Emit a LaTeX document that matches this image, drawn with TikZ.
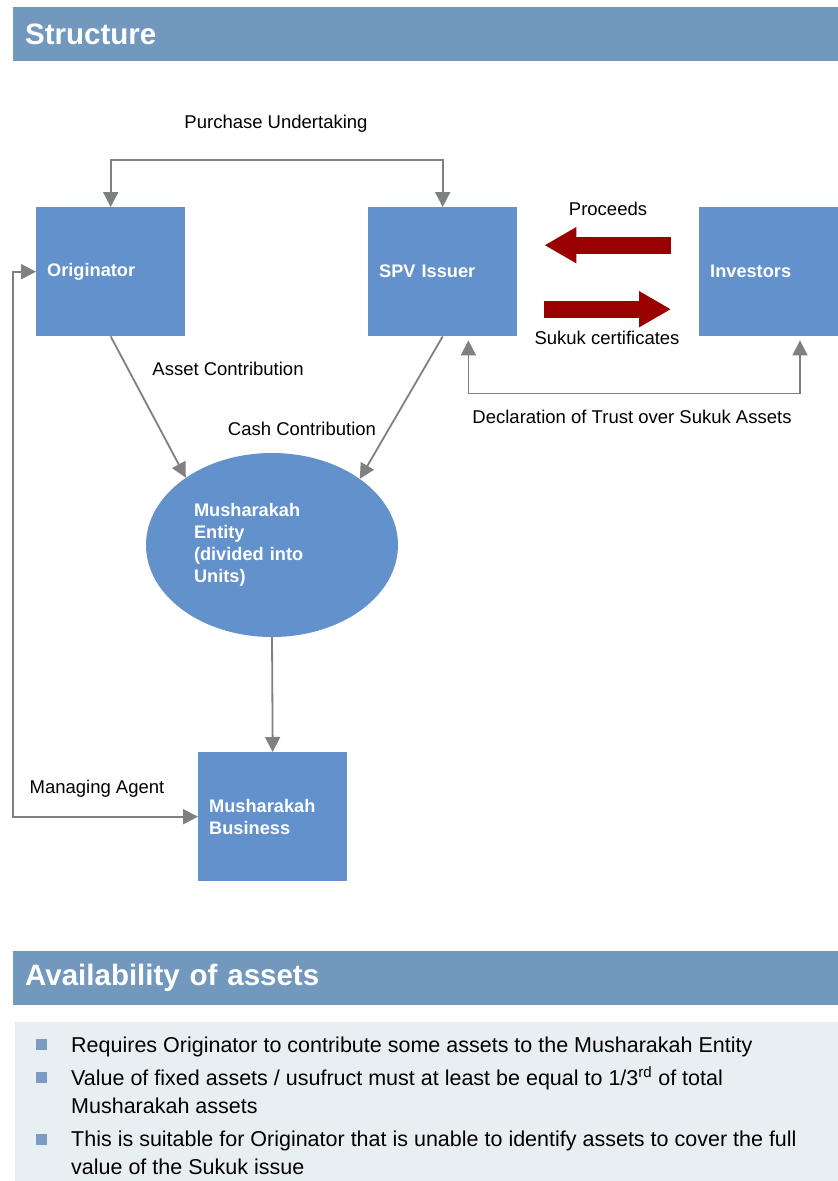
\documentclass[tikz,border=0pt]{standalone}
\usepackage{fontspec}
\setmainfont{Liberation Sans}
\usetikzlibrary{arrows.meta,shapes.geometric,calc}
\definecolor{hdr}{RGB}{114,152,190}
\definecolor{boxblue}{RGB}{99,145,203}
\definecolor{arrgray}{RGB}{128,128,128}
\definecolor{darkred}{RGB}{153,0,0}
\definecolor{panelbg}{RGB}{232,239,243}
\definecolor{bulletc}{RGB}{122,155,194}
\tikzset{
  hdrbar/.style={fill=hdr, anchor=north west, minimum width=825pt, minimum height=54pt,
    inner xsep=12pt, inner ysep=0pt, text width=801pt, align=left, text=white,
    font=\fontsize{29.5}{34}\selectfont\bfseries},
  entbox/.style={fill=boxblue, minimum height=129pt, inner xsep=11pt, inner ysep=0pt,
    text width=127pt, align=left, text=white, font=\fontsize{18.2}{22}\selectfont\bfseries},
  entell/.style={ellipse, fill=boxblue, minimum width=252pt, minimum height=184pt, inner sep=0pt,
    text width=156pt, align=left, text=white, font=\fontsize{18.2}{22}\selectfont\bfseries},
  lbl/.style={font=\fontsize{18.5}{22}\selectfont, inner sep=0pt},
  garrow/.style={draw=arrgray, line width=1.8pt, -{Triangle[length=15pt,width=15pt]}},
  gdarrow/.style={draw=arrgray, line width=1.8pt, {Triangle[length=15pt,width=15pt]}-{Triangle[length=15pt,width=15pt]}},
  redarrow/.style={draw=darkred, line width=17pt, -{Triangle[length=32pt,width=34pt]}},
  bultext/.style={anchor=base west, inner sep=0pt, align=left, font=\fontsize{21.5}{28}\selectfont},
  bulsq/.style={fill=bulletc, minimum size=11pt, inner sep=0pt}
}
\begin{document}
\begin{tikzpicture}[x=1pt,y=-1pt]
\useasboundingbox (0,0) rectangle (838,1181);
\fill[white] (0,0) rectangle (838,1181);

% headers
\node[hdrbar] (h1) at (13,7) {Structure};
\node[hdrbar] (h2) at (13,951) {Availability of assets};

% entities
\node[entbox, anchor=north west] (orig) at (36,207) {Originator};
\node[entbox, anchor=north west] (spv) at (368,207) {SPV Issuer};
\node[entbox, anchor=north west, text width=117pt] (inv) at (699,207) {Investors};
\node[entell] (ell) at (272,545) {Musharakah\\Entity\\(divided into\\Units)};
\node[entbox, anchor=north west] (bus) at (198,752) {Musharakah\\Business};

% purchase undertaking
\draw[gdarrow] (orig.north) -- ++(0,-47) -| (spv.north);
\node[lbl] (lpu) at (276,124) {Purchase Undertaking};

% red arrows
\coordinate (p1) at ($(inv.west)+(-28,-26.5)$);
\coordinate (p2) at ($(spv.east)+(27,-26.5)$);
\coordinate (s1) at ($(spv.east)+(27,37.5)$);
\coordinate (s2) at ($(inv.west)+(-28,37.5)$);
\draw[redarrow] (p1) -- (p2);
\draw[redarrow] (s1) -- (s2);
\node[lbl] (lpr) at (608,209) {Proceeds};
\node[lbl] (lsc) at (607,338) {Sukuk certificates};

% declaration of trust
\coordinate (d1) at ($(spv.south east)+(-49,4)$);
\coordinate (d2) at ($(inv.south west)+(101,4)$);
\draw[gdarrow] (d1) -- ++(0,53) -| (d2);
\node[lbl] (ldt) at (632,417) {Declaration of Trust over Sukuk Assets};

% contributions
\draw[garrow] (orig.south) -- (ell.142);
\draw[garrow] (spv.south) -- (ell.37);
\node[lbl] (lac) at (228,369) {Asset Contribution};
\node[lbl] (lcc) at (302,429) {Cash Contribution};

% entity to business
\draw[garrow] (ell.south) -- (bus.north);

% managing agent
\draw[gdarrow] (orig.west) -- ++(-23,0) |- (bus.west);
\node[lbl] (lma) at (97,789) {Managing Agent};

% bottom panel
\fill[panelbg] (15,1022) rectangle (838,1181);
\node[bulsq] (b1) at (41.5,1044) {};
\node[bulsq] (b2) at (41.5,1077) {};
\node[bulsq] (b3) at (41.5,1139) {};
\node[bultext] (t1) at (71,1052) {Requires Originator to contribute some assets to the Musharakah Entity};
\node[bultext] (t2) at (71,1113) {Value of fixed assets / usufruct must at least be equal to 1/3\textsuperscript{rd} of total\\Musharakah assets};
\node[bultext] (t3) at (71,1174.5) {This is suitable for Originator that is unable to identify assets to cover the full\\value of the Sukuk issue};
\end{tikzpicture}
\end{document}
